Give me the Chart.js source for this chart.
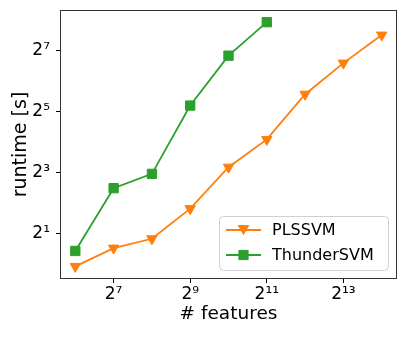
<!DOCTYPE html>
<html>
<head>
<meta charset="utf-8">
<script src="https://cdn.jsdelivr.net/npm/chart.js@4/dist/chart.umd.min.js"></script>
<style>
    html, body { margin: 0; padding: 0; background: #fff; }
</style>
</head>
<body>
<canvas id="runtimeChart" width="407" height="339"></canvas>
<script>
// number of features (2^6 .. 2^14)
const features = [64, 128, 256, 512, 1024, 2048, 4096, 8192, 16384];
// runtime in seconds
const plssvmRuntime = [0.95, 1.44, 1.78, 3.53, 9.06, 17.0, 47.5, 96.3, 182];
const thundersvmRuntime = [1.35, 5.62, 7.78, 36.7, 114, 244];

const xTickValues = [128, 512, 2048, 8192];
const xTickLabels = ['2⁷', '2⁹', '2¹¹', '2¹³'];
const yTickValues = [2, 8, 32, 128];
const yTickLabels = ['2¹', '2³', '2⁵', '2⁷'];

const orange = '#ff7f0e';
const green = '#2ca02c';

function toPoints(ys) {
    return ys.map((y, i) => ({ x: features[i], y: y }));
}

function drawMarker(ctx, style, x, y, color) {
    ctx.save();
    ctx.fillStyle = color;
    ctx.strokeStyle = color;
    ctx.lineWidth = 1;
    ctx.beginPath();
    if (style === 'triangle') {
        // pointing down, like matplotlib 'v'
        ctx.moveTo(x - 5.2, y - 4.5);
        ctx.lineTo(x + 5.2, y - 4.5);
        ctx.lineTo(x, y + 4.5);
        ctx.closePath();
    } else {
        ctx.rect(x - 4.6, y - 4.6, 9.2, 9.2);
    }
    ctx.fill();
    ctx.stroke();
    ctx.restore();
}

// axes frame (all four spines)
const frame = {
    id: 'frame',
    afterDatasetsDraw(chart) {
        const a = chart.chartArea;
        const ctx = chart.ctx;
        ctx.save();
        ctx.strokeStyle = '#333';
        ctx.lineWidth = 1;
        ctx.strokeRect(a.left + 0.5, a.top + 0.5, a.right - a.left - 1, a.bottom - a.top - 1);
        ctx.restore();
    }
};

// matplotlib-style legend in the lower right corner
const legendBox = {
    id: 'legendBox',
    afterDraw(chart) {
        const a = chart.chartArea;
        const ctx = chart.ctx;
        const w = 169, h = 54;
        const x0 = a.right - 9 - w;
        const y0 = a.bottom - 9 - h;
        ctx.save();
        ctx.fillStyle = 'rgba(255,255,255,0.8)';
        ctx.strokeStyle = '#d0d0d0';
        ctx.lineWidth = 1;
        ctx.beginPath();
        ctx.roundRect(x0 + 0.5, y0 + 0.5, w, h, 4);
        ctx.fill();
        ctx.stroke();

        const items = [
            { label: 'PLSSVM', color: orange, style: 'triangle' },
            { label: 'ThunderSVM', color: green, style: 'rect' }
        ];
        items.forEach((item, i) => {
            const y = y0 + 14 + i * 25;
            ctx.strokeStyle = item.color;
            ctx.lineWidth = 1.8;
            ctx.beginPath();
            ctx.moveTo(x0 + 7, y);
            ctx.lineTo(x0 + 42, y);
            ctx.stroke();
            drawMarker(ctx, item.style, x0 + 24.5, y, item.color);
            ctx.fillStyle = '#000';
            ctx.font = '16px "DejaVu Sans"';
            ctx.textBaseline = 'middle';
            ctx.textAlign = 'left';
            ctx.fillText(item.label, x0 + 53, y + 1);
        });
        ctx.restore();
    }
};

Chart.defaults.color = '#000';
Chart.defaults.font.family = '"DejaVu Sans", sans-serif';

const ctx = document.getElementById('runtimeChart').getContext('2d');
new Chart(ctx, {
    type: 'line',
    data: {
        datasets: [{
            label: 'PLSSVM',
            data: toPoints(plssvmRuntime),
            borderColor: orange,
            backgroundColor: orange,
            borderWidth: 1.8,
            pointStyle: 'triangle',
            pointRotation: 180,
            pointRadius: 6,
            pointHoverRadius: 6,
            pointBorderWidth: 1,
            tension: 0
        }, {
            label: 'ThunderSVM',
            data: toPoints(thundersvmRuntime),
            borderColor: green,
            backgroundColor: green,
            borderWidth: 1.8,
            pointStyle: 'rect',
            pointRadius: 6.6,
            pointHoverRadius: 6.6,
            pointBorderWidth: 1,
            tension: 0
        }]
    },
    options: {
        responsive: false,
        animation: false,
        devicePixelRatio: 1,
        layout: { padding: { top: 10, right: 10, left: 0, bottom: 0 } },
        plugins: {
            legend: { display: false },
            tooltip: { enabled: false }
        },
        scales: {
            x: {
                type: 'logarithmic',
                min: Math.pow(2, 5.6),
                max: Math.pow(2, 14.4),
                bounds: 'data',
                afterBuildTicks: scale => {
                    scale.ticks = xTickValues.map(v => ({ value: v }));
                },
                afterFit: scale => {
                    scale.height = 60;
                    scale.paddingLeft = 0;
                    scale.paddingRight = 0;
                },
                ticks: {
                    autoSkip: false,
                    maxRotation: 0,
                    padding: 1,
                    font: { size: 17 },
                    callback: (value) => xTickLabels[xTickValues.indexOf(value)]
                },
                grid: {
                    drawOnChartArea: false,
                    drawTicks: true,
                    tickLength: 4,
                    tickColor: '#000'
                },
                border: { display: false },
                title: {
                    display: true,
                    text: '# features',
                    font: { size: 18.5 },
                    padding: { top: 0, bottom: 14 }
                }
            },
            y: {
                type: 'logarithmic',
                min: Math.pow(2, -0.486),
                max: Math.pow(2, 8.33),
                bounds: 'data',
                afterBuildTicks: scale => {
                    scale.ticks = yTickValues.map(v => ({ value: v }));
                },
                afterFit: scale => {
                    scale.width = 60;
                    scale.paddingTop = 0;
                    scale.paddingBottom = 0;
                },
                ticks: {
                    autoSkip: false,
                    padding: 6,
                    font: { size: 17 },
                    callback: (value) => yTickLabels[yTickValues.indexOf(value)]
                },
                grid: {
                    drawOnChartArea: false,
                    drawTicks: true,
                    tickLength: 4,
                    tickColor: '#000'
                },
                border: { display: false },
                title: {
                    display: true,
                    text: 'runtime [s]',
                    font: { size: 19 },
                    padding: { top: 10, bottom: 0 }
                }
            }
        }
    },
    plugins: [frame, legendBox]
});
</script>
</body>
</html>
